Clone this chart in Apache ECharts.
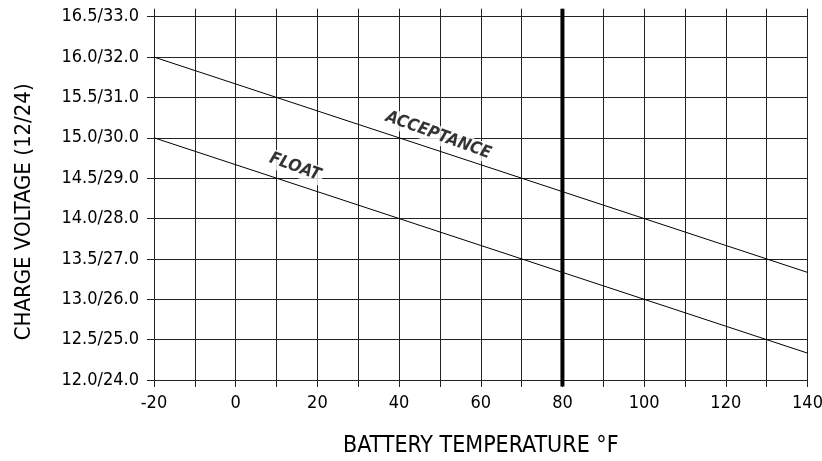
<!DOCTYPE html>
<html><head><meta charset="utf-8">
<script src="https://cdn.jsdelivr.net/npm/echarts@6/dist/echarts.min.js"></script>
<style>html,body{margin:0;padding:0;background:#fff}#c{width:822px;height:461px}</style>
</head><body><div id="c"></div>
<script>
const FONT = "'Liberation Sans Narrow','DejaVu Sans Condensed',sans-serif";
const temps = [-20, 140];
const acceptance = [16.0, 13.333];
const floatV = [15.0, 12.333];
const refTemp = [80, 80];
const refVolt = [11.92, 16.6];
const yTickLabels = {'12.0':'12.0/24.0','12.5':'12.5/25.0','13.0':'13.0/26.0','13.5':'13.5/27.0','14.0':'14.0/28.0','14.5':'14.5/29.0','15.0':'15.0/30.0','15.5':'15.5/31.0','16.0':'16.0/32.0','16.5':'16.5/33.0'};
const labels = [
  {name:'ACCEPTANCE', x:49.6, y:15.03, rot:-20},
  {name:'FLOAT', x:14.5, y:14.64, rot:-20}
];
const lineColor = '#222';
const chart = echarts.init(document.getElementById('c'));
chart.setOption({
  animation:false,
  grid:{left:154, right:14.5, top:16.7, bottom:81, containLabel:false, outerBoundsMode:'none'},
  xAxis:[{
    type:'value', min:-20, max:140, interval:10,
    name:'BATTERY TEMPERATURE °F', nameLocation:'middle', nameGap:55,
    nameTextStyle:{fontFamily:FONT, fontSize:23, color:'#000'},
    axisLine:{show:true, onZero:false, lineStyle:{color:lineColor,width:1}},
    axisTick:{show:true, length:7, lineStyle:{color:lineColor}},
    axisLabel:{fontFamily:FONT, fontSize:18, color:'#000', margin:14,
      formatter:v=> (v%20===0 ? String(v) : '')},
    splitLine:{show:true, lineStyle:{color:lineColor,width:1}}
  },{
    type:'value', position:'top', min:-20, max:140, interval:10,
    axisLine:{show:true, lineStyle:{color:lineColor}},
    axisTick:{show:true, length:8, lineStyle:{color:lineColor}},
    axisLabel:{show:false}, splitLine:{show:false}
  }],
  yAxis:[{
    type:'value', min:12, max:16.5, interval:0.5,
    name:'CHARGE VOLTAGE (12/24)', nameLocation:'middle', nameGap:119,
    nameTextStyle:{fontFamily:FONT, fontSize:22, color:'#000', padding:[0,27,0,0]},
    axisLine:{show:true, onZero:false, lineStyle:{color:lineColor}},
    axisTick:{show:true, length:7, lineStyle:{color:lineColor}},
    axisLabel:{fontFamily:FONT, fontSize:18, color:'#000', margin:15,
      formatter:v=> yTickLabels[v.toFixed(1)] || ''},
    splitLine:{show:true, lineStyle:{color:lineColor,width:1}}
  },{
    type:'value', position:'right', min:12, max:16.5, interval:0.5,
    axisLine:{show:true, lineStyle:{color:lineColor}},
    axisTick:{show:true, length:9, lineStyle:{color:lineColor}},
    axisLabel:{show:false}, splitLine:{show:false}
  }],
  series:[
    {type:'line', data:temps.map((t,i)=>[t,acceptance[i]]), symbol:'none', lineStyle:{color:'#000',width:1}},
    {type:'line', data:temps.map((t,i)=>[t,floatV[i]]), symbol:'none', lineStyle:{color:'#000',width:1}},
    {type:'line', data:refTemp.map((t,i)=>[t,refVolt[i]]), symbol:'none', clip:false, lineStyle:{color:'#000',width:4}},
    {type:'scatter', symbolSize:0, z:10,
      data:labels.map(l=>({value:[l.x,l.y], name:l.name})),
      label:{show:true, position:'inside', formatter:p=>p.name,
        fontFamily:FONT, fontSize:17, fontStyle:'italic', fontWeight:'bold', color:'#000',
        backgroundColor:'#fff', padding:[1,3]},
      labelLayout:p=>({rotate: labels[p.dataIndex].rot})
    }
  ]
});
</script></body></html>
